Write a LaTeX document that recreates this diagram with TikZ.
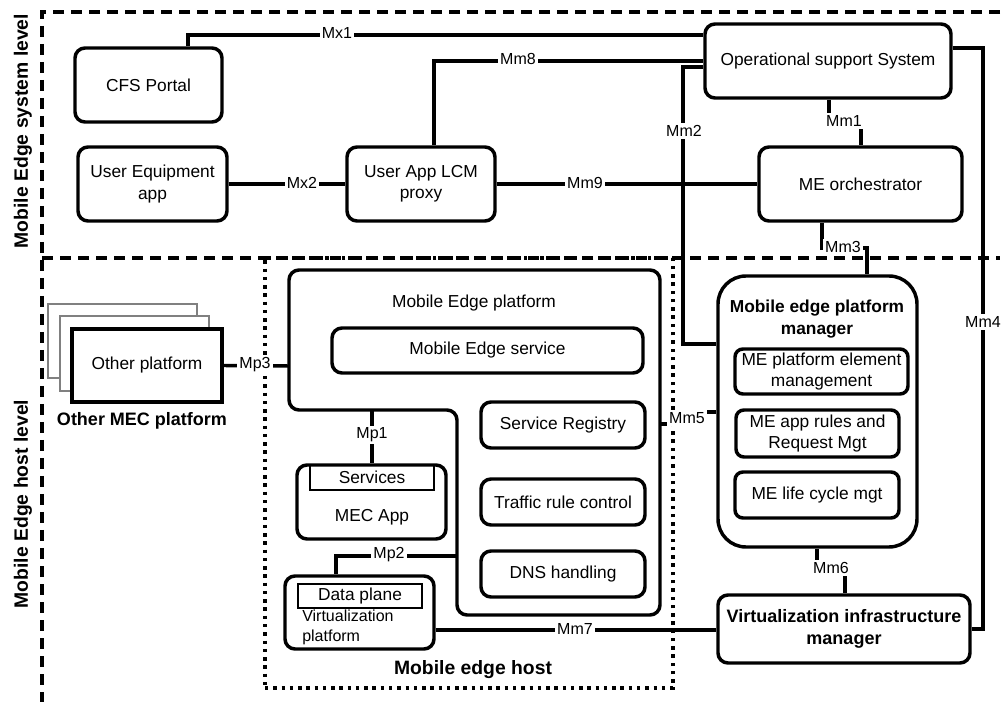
\documentclass[tikz,border=0pt]{standalone}
\usepackage{fontspec}
\setmainfont{Liberation Sans}
\begin{document}
\begin{tikzpicture}[x=0.75pt,y=-0.75pt,
  txt/.style={font=\fontsize{13}{16}\selectfont, align=center, inner sep=0pt},
  btxt/.style={font=\bfseries\fontsize{13}{16.5}\selectfont, align=center, inner sep=0pt},
  box/.style={draw, line width=2.6pt, rounded corners=7.5pt, fill=white, inner sep=0pt, align=center, font=\fontsize{13}{16}\selectfont},
  sbox/.style={box, rounded corners=6pt},
  thinbox/.style={draw, line width=0.8pt, inner sep=0pt},
  conn/.style={line width=2.6pt},
  lab/.style={fill=white, inner sep=1.5pt, font=\fontsize{12}{14}\selectfont},
  border/.style={line width=2.6pt, dash pattern=on 8pt off 5.5pt},
  hostline/.style={draw, line width=2.8pt, dash pattern=on 2.6pt off 3.6pt},
  level/.style={rotate=90, font=\bfseries\fontsize{14.5}{17}\selectfont},
]
\useasboundingbox (0,0) rectangle (1004,702);

% level borders
\coordinate (bTL) at (42,12);
\coordinate (bTR) at (1000,12);
\coordinate (bML) at (42,258);
\coordinate (bMR) at (1000,258);
\coordinate (bBL) at (42,702);
\draw[border] (bTR) -- (bTL) -- (bBL);
\draw[border] (bML) -- (bMR);
\node[level] (lsys) at (23,131) {Mobile Edge system level};
\node[level] (lhost) at (23,504) {Mobile Edge host level};

% mobile edge host (dotted)
\node[hostline, inner sep=0pt, minimum width=306pt, minimum height=322.5pt] (host) at (469,473) {};
\node[font=\bfseries\fontsize{14.5}{17}\selectfont] (hostt) at (473,670) {Mobile edge host};

% other MEC platform
\node[draw=gray, line width=1pt, fill=white, inner sep=0pt, minimum width=111.75pt, minimum height=55.5pt] (op3) at (122.5,341) {};
\node[draw=gray, line width=1pt, fill=white, inner sep=0pt, minimum width=111.75pt, minimum height=56.25pt] (op2) at (134.5,353.5) {};
\node[draw, line width=2.6pt, fill=white, inner sep=0pt, minimum width=112.5pt, minimum height=54.75pt, font=\fontsize{13}{16}\selectfont] (op) at (147,365.5) {Other platform};
\node[font=\bfseries\fontsize{13.5}{16}\selectfont] (omec) at (142,421) {Other MEC platform};

% system level boxes
\node[box, minimum width=184.5pt, minimum height=55.5pt] (oss) at (828,61) {Operational support System};
\node[box, minimum width=110.25pt, minimum height=55.5pt] (cfs) at (148.5,85) {CFS Portal};
\node[box, minimum width=111.75pt, minimum height=55.5pt] (ue) at (152.5,184) {User Equipment\\app};
\node[box, minimum width=111pt, minimum height=55.5pt] (lcm) at (421,184) {User App LCM\\proxy};
\node[box, minimum width=152.25pt, minimum height=55.5pt] (orch) at (860.5,184) {ME orchestrator};

% mobile edge platform
\draw[conn, rounded corners=7.5pt] (474,270) -- (660,270) -- (660,615) -- (457,615) -- (457,410) -- (289,410) -- (289,270) -- cycle;
\coordinate (mepW) at (289,366);
\coordinate (mepE) at (660,424);
\coordinate (mepB) at (372,410);
\coordinate (mepI) at (457,556);
\node[txt] (mept) at (474,303) {Mobile Edge platform};
\node[box, minimum width=233.25pt, minimum height=33.75pt] (mes) at (487.5,350.5) {Mobile Edge service};
\node[box, minimum width=123pt, minimum height=34.5pt] (sreg) at (563,425) {Service Registry};
\node[box, minimum width=123pt, minimum height=34.5pt] (trc) at (563,502) {Traffic rule control};
\node[box, minimum width=123pt, minimum height=34.5pt] (dns) at (563,574) {DNS handling};

% MEC app
\node[box, minimum width=111.75pt, minimum height=55.5pt] (app) at (371.5,502) {};
\node[thinbox, minimum width=93pt, minimum height=18.75pt] (svc) at (372,477.5) {};
\node[txt] (svct) at (372,477) {Services};
\node[txt] (appt) at (372,517) {MEC App};

% virtualization platform
\node[box, minimum width=111.75pt, minimum height=54.75pt] (vp) at (359.5,612.5) {};
\node[thinbox, minimum width=93pt, minimum height=18pt] (dp) at (360,596) {};
\node[txt] (dpt) at (360,596) {Data plane};
\node[txt, font=\fontsize{12}{15}\selectfont, align=left, anchor=west] (vpt) at (302,627) {Virtualization\\platform};

% mobile edge platform manager
\node[box, rounded corners=21pt, minimum width=149.25pt, minimum height=203.25pt] (mepm) at (817.5,411.5) {};
\node[btxt] (mepmt) at (817,319) {Mobile edge platform\\manager};
\node[sbox, minimum width=129.75pt, minimum height=33.75pt] (pem) at (821.5,371.5) {ME platform element\\management};
\node[sbox, minimum width=122.25pt, minimum height=35.25pt] (rules) at (817.5,433.5) {ME app rules and\\Request Mgt};
\node[sbox, minimum width=123pt, minimum height=34.5pt] (lcmg) at (817,495) {ME life cycle mgt};

% VIM
\node[box, minimum width=189pt, minimum height=51pt, font=\bfseries\fontsize{13.5}{16.5}\selectfont] (vim) at (844,629) {Virtualization infrastructure\\manager};

% connectors
\draw[conn] (188,0 |- cfs.north) -- (188,35) -- (oss.west |- 0,35);
\draw[conn] (ue.east) -- (lcm.west);
\draw[conn] (lcm.east) -- (orch.west);
\draw[conn] (434,0 |- lcm.north) |- (oss.west |- 0,61);
\draw[conn] (oss.west |- 0,67) -| (683,344) -- (mepm.west |- 0,344);
\draw[conn] (829,0 |- oss.south) -- (829,121) -- (861,121) -- (861,0 |- orch.north);
\draw[conn] (822,0 |- orch.south) -- (822,248) -- (867,248) -- (867,0 |- mepm.north);
\draw[conn] (oss.east |- 0,48) -| (983,629) -- (vim.east |- 0,629);
\draw[conn] (mepE) -- (687,424) -- (687,412) -- (mepm.west |- 0,412);
\draw[conn] (817,0 |- mepm.south) -- (817,568) -- (845,568) -- (845,0 |- vim.north);
\draw[conn] (vp.east |- 0,630) -- (vim.west |- 0,630);
\draw[conn] (mepB) -- (372,0 |- app.north);
\draw[conn] (mepI) -- (336,556) -- (336,0 |- vp.north);
\draw[conn] (op.east) -- (mepW);

% labels
\node[lab] (lmx1) at (337,33) {Mx1};
\node[lab] (lmx2) at (302,183) {Mx2};
\node[lab] (lmm9) at (585,183) {Mm9};
\node[lab] (lmm8) at (518,59) {Mm8};
\node[lab] (lmm2) at (684,131) {Mm2};
\node[lab] (lmm1) at (844,121) {Mm1};
\node[lab] (lmm3) at (843,247) {Mm3};
\node[lab] (lmm4) at (983,322) {Mm4};
\node[lab] (lmm5) at (687,418) {Mm5};
\node[lab] (lmm6) at (831,568) {Mm6};
\node[lab] (lmm7) at (575,629) {Mm7};
\node[lab] (lmp1) at (372,435) {Mp1};
\node[lab] (lmp2) at (389,555) {Mp2};
\node[lab] (lmp3) at (255,365) {Mp3};
\end{tikzpicture}
\end{document}
